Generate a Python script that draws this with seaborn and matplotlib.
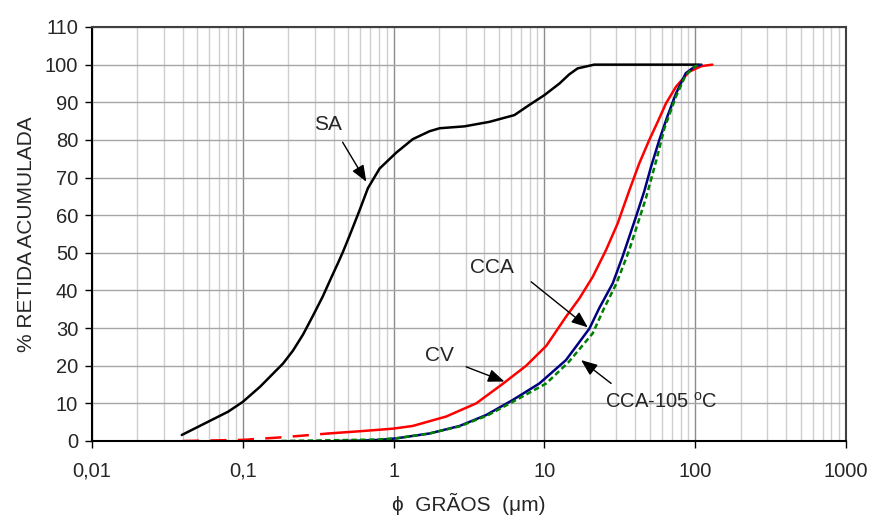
import matplotlib
matplotlib.use("Agg")
import matplotlib.pyplot as plt
from matplotlib.ticker import LogLocator, FixedLocator, FixedFormatter, NullFormatter
import seaborn as sns

# ---- data ----
sa_x = [0.0394, 0.08, 0.1, 0.13, 0.185, 0.215, 0.251, 0.292, 0.34, 0.377, 0.428, 0.462,
        0.511, 0.596, 0.676, 0.808, 1.04, 1.34, 1.73, 2.02, 2.95, 4.32, 6.33, 7.95, 10,
        12.6, 14.6, 16.6, 21.4, 50, 106]
sa_y = [1.6, 7.8, 10.4, 14.4, 20.6, 24.0, 28.3, 33.3, 38.5, 42.5, 47.3, 50.3,
        54.6, 61.4, 67.2, 72.4, 76.6, 80.2, 82.3, 83.1, 83.6, 84.8, 86.6, 89.3, 91.9,
        95.0, 97.4, 99.0, 100, 100, 100]

cv_dash_x = [0.04, 0.1, 0.185, 0.37]
cv_dash_y = [0.0, 0.3, 1.0, 2.0]
cv_x = [0.37, 0.6, 0.81, 1.0, 1.34, 2.23, 3.53, 5.3, 7.57, 10.3, 13.9, 17.0, 20.9, 25.6,
        30.6, 36.5, 42.6, 49.6, 56.4, 64, 74.5, 91, 110, 130]
cv_y = [2.0, 2.6, 3.0, 3.3, 4.0, 6.5, 10.0, 15.2, 20.0, 25.3, 33.0, 37.8, 43.6, 50.7,
        57.8, 66.5, 73.8, 80.0, 84.8, 89.7, 94.1, 98.1, 99.6, 100]

cca_x = [0.41, 0.6, 0.81, 1.04, 1.73, 2.74, 4.11, 6.17, 9.27, 13.9, 19.9, 23.1, 28.4,
         33.0, 40.5, 45.9, 50.9, 57.8, 65.6, 74.5, 86.5, 100, 110]
cca_y = [0.0, 0.1, 0.3, 0.7, 2.0, 4.0, 6.9, 10.9, 15.3, 21.5, 29.9, 35.3, 41.9,
         49.0, 59.6, 66.3, 72.8, 80.0, 86.4, 92.3, 97.7, 99.6, 100]

cca105_x = [0.18, 0.4, 0.8, 1.04, 1.73, 2.74, 4.2, 6.3, 10.3, 14.5, 20.9, 24.9, 30,
            36.5, 41, 47.1, 54.9, 62.4, 74.5, 86.5, 100, 110]
cca105_y = [0.0, 0.2, 0.4, 0.7, 2.0, 3.9, 6.8, 10.6, 15.3, 21.0, 28.6, 35.3, 41.8,
            50.7, 57.0, 64.5, 74.2, 83.0, 91.5, 97.2, 99.6, 100]

x_ticks = [0.01, 0.1, 1, 10, 100, 1000]
x_tick_labels = ["0,01", "0,1", "1", "10", "100", "1000"]
y_ticks = list(range(0, 111, 10))

# ---- style ----
sns.set_style("white")
plt.rcParams["font.family"] = ["Liberation Sans", "DejaVu Sans"]
plt.rcParams["mathtext.fontset"] = "custom"
plt.rcParams["mathtext.rm"] = "Liberation Sans"

fig = plt.figure(figsize=(8.72, 5.25), dpi=100)
ax = fig.add_axes([92 / 872, 1 - 441 / 525, (846 - 92) / 872, (441 - 27) / 525])

lw = 1.8
sns.lineplot(x=sa_x, y=sa_y, ax=ax, color="black", lw=lw, sort=False)
sns.lineplot(x=cv_dash_x, y=cv_dash_y, ax=ax, color="#ff0000", lw=lw, sort=False,
             linestyle=(0, (6.5, 4.5)))
sns.lineplot(x=cv_x, y=cv_y, ax=ax, color="#ff0000", lw=lw, sort=False)
sns.lineplot(x=cca_x, y=cca_y, ax=ax, color="#000080", lw=lw, sort=False)
sns.lineplot(x=cca105_x, y=cca105_y, ax=ax, color="#008000", lw=lw, sort=False,
             linestyle=(0, (2.2, 1.3)))

ax.set_xscale("log")
ax.set_xlim(0.01, 1000)
ax.set_ylim(0, 110)

ax.xaxis.set_major_locator(FixedLocator(x_ticks))
ax.xaxis.set_major_formatter(FixedFormatter(x_tick_labels))
ax.xaxis.set_minor_locator(LogLocator(base=10, subs=range(2, 10)))
ax.xaxis.set_minor_formatter(NullFormatter())
ax.set_yticks(y_ticks)

ax.set_axisbelow(True)
ax.grid(which="major", axis="x", color="#8c8c8c", lw=1.0)
ax.grid(which="minor", axis="x", color="#cfcfcf", lw=1.0)
ax.grid(which="major", axis="y", color="#a6a6a6", lw=1.0)

ax.tick_params(axis="both", which="major", direction="out", length=5, width=1.0,
               color="black", labelsize=14.5)
ax.tick_params(axis="x", which="major", pad=10)
ax.tick_params(axis="y", which="major", pad=5)
ax.tick_params(axis="x", which="minor", length=0)
ax.xaxis.set_ticks_position("bottom")
ax.yaxis.set_ticks_position("left")

for side in ["left", "bottom"]:
    ax.spines[side].set_color("black")
    ax.spines[side].set_linewidth(1.5)
for side in ["top", "right"]:
    ax.spines[side].set_color("#404040")
    ax.spines[side].set_linewidth(1.5)

ax.set_ylabel("% RETIDA ACUMULADA", fontsize=15, labelpad=6)
ax.set_xlabel("\u03d5  GRÃOS  (\u03bcm)", fontsize=15, labelpad=9)

arrow = dict(arrowstyle="-|>,head_length=0.45,head_width=0.18", color="black",
             lw=1.0, mutation_scale=22, shrinkA=0, shrinkB=0)
fs = 15
ax.annotate("", xy=(0.659, 68.9), xytext=(0.459, 79.4), arrowprops=arrow)
ax.text(0.366, 84.2, "SA", fontsize=fs, ha="center", va="center")
ax.annotate("", xy=(19.4, 30.2), xytext=(8.17, 42.3), arrowprops=arrow)
ax.text(4.46, 46.0, "CCA", fontsize=fs, ha="center", va="center")
ax.annotate("", xy=(5.43, 15.8), xytext=(3.03, 19.7), arrowprops=arrow)
ax.text(2.02, 22.6, "CV", fontsize=fs, ha="center", va="center")
ax.annotate("", xy=(17.5, 21.5), xytext=(27.7, 15.3), arrowprops=arrow)
ax.text(59.6, 10.4, "CCA-105 $^{\\mathrm{o}}$C", fontsize=14.5, ha="center", va="center")

fig.savefig("out.png", dpi=100)
